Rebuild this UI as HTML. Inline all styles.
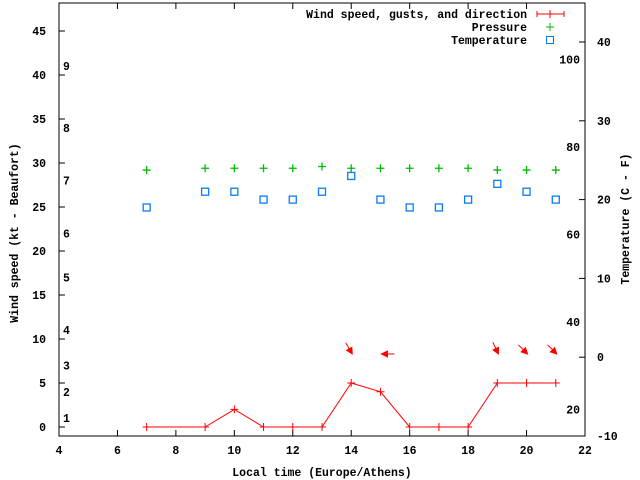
<!DOCTYPE html>
<html><head><meta charset="utf-8"><style>
body{margin:0;background:#fff}
svg{display:block}
text{font-family:"Liberation Mono",monospace;font-size:11.5px;font-weight:bold;fill:#000}
</style></head><body>
<svg id="chart" width="640" height="480" viewBox="0 0 640 480" xmlns="http://www.w3.org/2000/svg">
<g id="axes"></g><g id="marks"></g>
</svg>
<script>
const hours=[7,9,10,11,12,13,14,15,16,17,18,19,20,21];
const wind=[0,0,2,0,0,0,5,4,0,0,0,5,5,5];
const pressure=[29.2,29.4,29.4,29.4,29.4,29.6,29.4,29.4,29.4,29.4,29.4,29.2,29.2,29.2];
const tempC=[19,21,21,20,20,21,23,20,19,19,20,22,21,20];
const arrowHours=[14,15,19,20,21];
const arrowDir=[-60,180,-65,-45,-45]; // screen angle deg (direction arrow points)
const xTicks=[4,6,8,10,12,14,16,18,20,22];
const yTicks=[0,5,10,15,20,25,30,35,40,45];
const y2Ticks=[-10,0,10,20,30,40];
const fTicks=[20,40,60,80,100];
const bftLabels=["1","2","3","4","5","6","7","8","9"];
const bftVals=[1.0,4.0,7.0,11.0,17.0,22.0,28.0,34.0,41.0];

const L=59,R=585,T=3,B=436;
const X=v=>L+(v-4)*(R-L)/18;
const Y=v=>427-v*8.8;
const Y2=c=>436-(c+10)*7.88;
const YF=f=>Y2((f-32)*5/9);
const NS="http://www.w3.org/2000/svg";
function mk(p,tag,a){const e=document.createElementNS(NS,tag);for(const k in a)e.setAttribute(k,a[k]);p.appendChild(e);return e;}
const ax=document.getElementById('axes'),mg=document.getElementById('marks');

const frame=mk(ax,'rect',{x:L,y:T,width:R-L,height:B-T,fill:'none',stroke:'#000','stroke-width':1});


xTicks.forEach(v=>{
 const t=mk(ax,'path',{d:`M${X(v)},${B}v-6M${X(v)},${T}v6`,stroke:'#000'});
 
 
 const l=mk(ax,'text',{x:X(v),y:B+18,'text-anchor':'middle'});l.textContent=v;
 
 
});
yTicks.forEach(v=>{
 const t=mk(ax,'path',{d:`M${L},${Y(v)}h6`,stroke:'#000'});
 
 
 const l=mk(ax,'text',{x:L-13,y:Y(v)+4,'text-anchor':'end'});l.textContent=v;
 
 
});
y2Ticks.forEach(v=>{
 const t=mk(ax,'path',{d:`M${R},${Y2(v)}h-6`,stroke:'#000'});
 
 
 const l=mk(ax,'text',{x:R+12,y:Y2(v)+4});l.textContent=v;
 
 
});
fTicks.forEach(v=>{
 const l=mk(ax,'text',{x:580,y:YF(v)+4,'text-anchor':'end'});l.textContent=v;
 
 
});
bftLabels.forEach((s,i)=>{
 const l=mk(ax,'text',{x:63,y:Y(bftVals[i])+4});l.textContent=s;
 
 
});
let t=mk(ax,'text',{x:322,y:476,'text-anchor':'middle'});t.textContent='Local time (Europe/Athens)';


t=mk(ax,'text',{x:0,y:0,'text-anchor':'middle',transform:'translate(18,233) rotate(-90)'});t.textContent='Wind speed (kt - Beaufort)';


t=mk(ax,'text',{x:0,y:0,'text-anchor':'middle',transform:'translate(629,219) rotate(-90)'});t.textContent='Temperature (C - F)';



// legend
const lg=[['Wind speed, gusts, and direction',18],['Pressure',31],['Temperature',44]];
lg.forEach(([s,y])=>{const e=mk(ax,'text',{x:527,y:y,'text-anchor':'end'});e.textContent=s;
 
 });
let e=mk(ax,'path',{d:'M537,14h27M537,11v6M564,11v6M550,10v8',stroke:'#f00'});


e=mk(ax,'path',{d:'M546,27h8M550,23v8',stroke:'#0b0'});


e=mk(ax,'rect',{x:546.5,y:36.5,width:7,height:7,fill:'none',stroke:'#0a7cf0'});



// wind line
let d=hours.map((h,i)=>(i?'L':'M')+X(h)+','+Y(wind[i])).join('');
e=mk(mg,'path',{d:d,fill:'none',stroke:'#f00'});


hours.forEach((h,i)=>{
 const m=mk(mg,'path',{d:`M${X(h)-4},${Y(wind[i])}h8M${X(h)},${Y(wind[i])-4}v8`,stroke:'#f00'});
 
 
 const p=mk(mg,'path',{d:`M${X(h)-4},${Y(pressure[i])}h8M${X(h)},${Y(pressure[i])-4}v8`,stroke:'#0b0','stroke-width':1.3});
 
 
 const q=mk(mg,'rect',{x:X(h)-3.5,y:Y2(tempC[i])-3.5,width:7,height:7,fill:'none',stroke:'#0a7cf0','stroke-width':1.3});
 
 
});
arrowHours.forEach((h,i)=>{
 const a=arrowDir[i]*Math.PI/180, x1=X(h)+1, y1=354;
 const x0=x1-13*Math.cos(a), y0=y1+13*Math.sin(a);
 const ux=Math.cos(a),uy=-Math.sin(a);
 const hx=x1-6*ux,hy=y1-6*uy;
 const ar=mk(mg,'path',{d:`M${x0},${y0}L${x1},${y1}M${x1},${y1}L${hx-3*uy},${hy+3*ux}L${hx+3*uy},${hy-3*ux}Z`,stroke:'#f00',fill:'#f00'});
 
 
});
</script>
</body></html>
